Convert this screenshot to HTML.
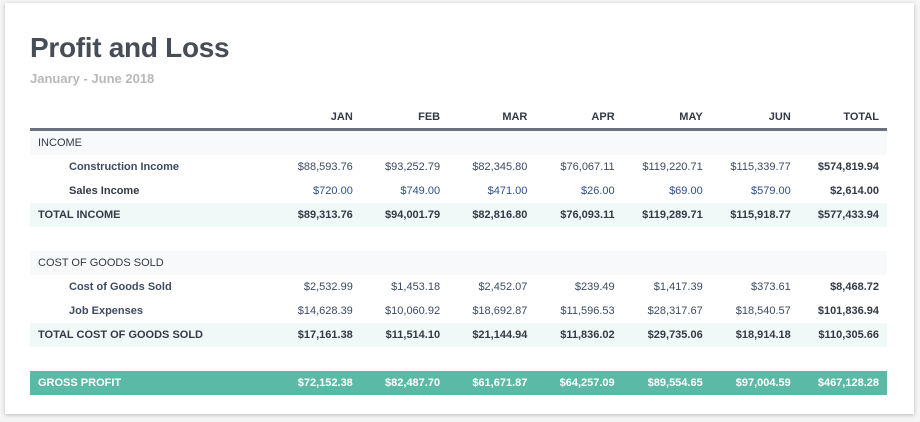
<!DOCTYPE html>
<html><head><style>
body{margin:0;width:920px;height:422px;background:#f5f5f5;font-family:"Liberation Sans",sans-serif;overflow:hidden}
.card{position:absolute;left:5px;top:3px;width:909px;height:411px;background:#fff;box-shadow:0 1px 4px rgba(0,0,0,.25)}
h1{position:absolute;left:25px;top:29px;margin:0;font-size:28px;font-weight:bold;color:#464d57;letter-spacing:-0.3px;line-height:32px}
.sub{position:absolute;left:25px;top:68px;font-size:13px;font-weight:bold;color:#b8b8b8}
table{position:absolute;left:25px;top:102px;width:857px;border-collapse:collapse;font-size:11px;color:#333a45}
td,th{height:24px;padding:0 8px 0 8px;text-align:right;white-space:nowrap}
th{font-weight:bold;height:23px;border-bottom:3px solid #6b717d;color:#333a45}
td:first-child,th:first-child{text-align:left;width:207px}
td{width:74px}
.sec{background:#f8f9fa}
.tot{background:#f0f9f8;font-weight:bold}
.ind td:first-child{padding-left:39px;font-weight:bold}
.v td{color:#3c4a63}
.v td:last-child{font-weight:bold;color:#333a45}
.blue td{color:#2d4f86}
.blue td:first-child,.blue td:last-child{color:#333a45}
.gp{background:#5bbaa6;color:#fff;font-weight:bold}
</style></head><body>
<div class="card">
<h1>Profit and Loss</h1>
<div class="sub">January - June 2018</div>
<table>
<tr><th></th><th>JAN</th><th>FEB</th><th>MAR</th><th>APR</th><th>MAY</th><th>JUN</th><th>TOTAL</th></tr>
<tr class="sec"><td>INCOME</td><td></td><td></td><td></td><td></td><td></td><td></td><td></td></tr>
<tr class="ind v"><td>Construction Income</td><td>$88,593.76</td><td>$93,252.79</td><td>$82,345.80</td><td>$76,067.11</td><td>$119,220.71</td><td>$115,339.77</td><td>$574,819.94</td></tr>
<tr class="ind v blue"><td>Sales Income</td><td>$720.00</td><td>$749.00</td><td>$471.00</td><td>$26.00</td><td>$69.00</td><td>$579.00</td><td>$2,614.00</td></tr>
<tr class="tot"><td>TOTAL INCOME</td><td>$89,313.76</td><td>$94,001.79</td><td>$82,816.80</td><td>$76,093.11</td><td>$119,289.71</td><td>$115,918.77</td><td>$577,433.94</td></tr>
<tr><td></td><td></td><td></td><td></td><td></td><td></td><td></td><td></td></tr>
<tr class="sec"><td>COST OF GOODS SOLD</td><td></td><td></td><td></td><td></td><td></td><td></td><td></td></tr>
<tr class="ind v"><td>Cost of Goods Sold</td><td>$2,532.99</td><td>$1,453.18</td><td>$2,452.07</td><td>$239.49</td><td>$1,417.39</td><td>$373.61</td><td>$8,468.72</td></tr>
<tr class="ind v"><td>Job Expenses</td><td>$14,628.39</td><td>$10,060.92</td><td>$18,692.87</td><td>$11,596.53</td><td>$28,317.67</td><td>$18,540.57</td><td>$101,836.94</td></tr>
<tr class="tot"><td>TOTAL COST OF GOODS SOLD</td><td>$17,161.38</td><td>$11,514.10</td><td>$21,144.94</td><td>$11,836.02</td><td>$29,735.06</td><td>$18,914.18</td><td>$110,305.66</td></tr>
<tr><td></td><td></td><td></td><td></td><td></td><td></td><td></td><td></td></tr>
<tr class="gp"><td>GROSS PROFIT</td><td>$72,152.38</td><td>$82,487.70</td><td>$61,671.87</td><td>$64,257.09</td><td>$89,554.65</td><td>$97,004.59</td><td>$467,128.28</td></tr>
</table>
</div>
</body></html>
